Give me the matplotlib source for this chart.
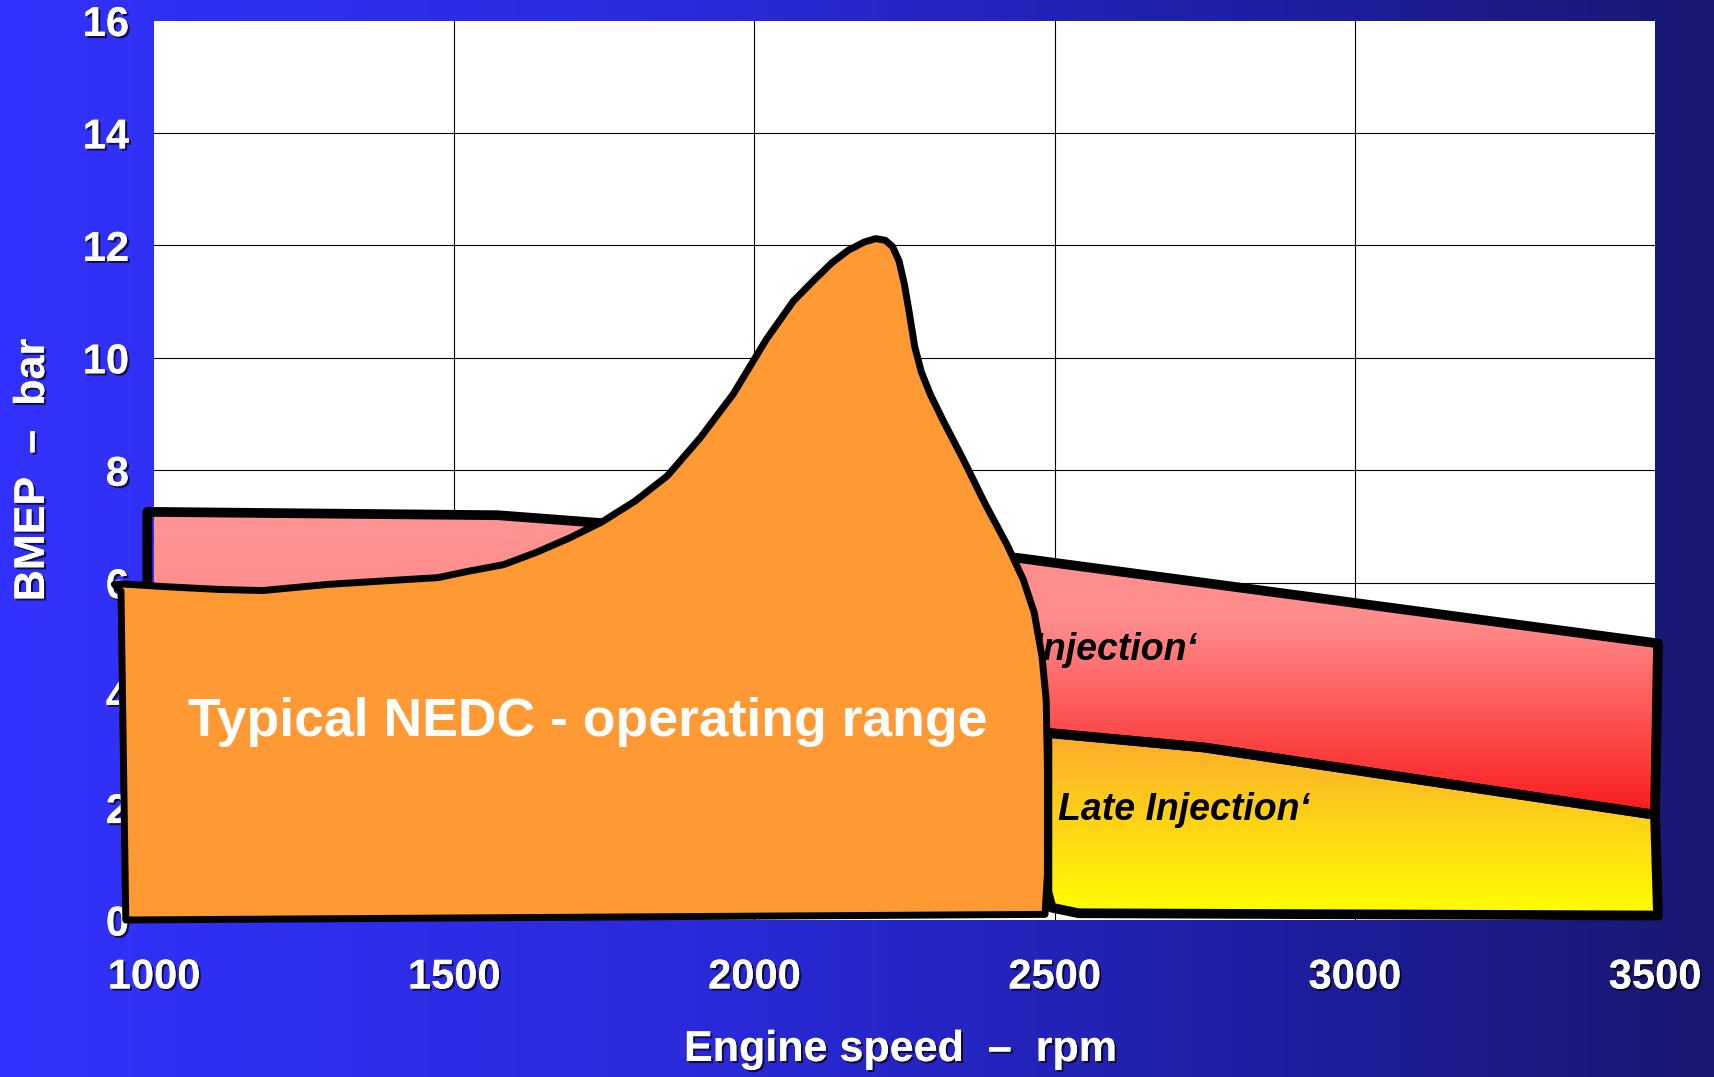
import numpy as np
import matplotlib.pyplot as plt
import matplotlib.patheffects as pe
from matplotlib.patches import Polygon
from matplotlib.colors import LinearSegmentedColormap

plt.rcParams['font.family'] = ['Liberation Sans', 'DejaVu Sans']

# outlines: engine speed (rpm) / BMEP (bar)
nedc_rpm = [944, 1017, 1108, 1181, 1290, 1411, 1473, 1522, 1582, 1637, 1691, 1746,
            1801, 1855, 1910, 1965, 2020, 2065, 2101, 2129, 2156, 2183, 2202, 2218,
            2230, 2241, 2250, 2258, 2267, 2278, 2293, 2315, 2348, 2384, 2421, 2448,
            2466, 2479, 2486, 2488, 2488, 2484, 953, 945, 934]
nedc_bmep = [5.98, 5.93, 5.88, 5.86, 5.97, 6.05, 6.09, 6.2, 6.32, 6.54, 6.79, 7.08,
             7.45, 7.9, 8.58, 9.36, 10.33, 11.01, 11.4, 11.69, 11.91, 12.06, 12.12, 12.09,
             11.98, 11.72, 11.3, 10.8, 10.2, 9.75, 9.35, 8.87, 8.19, 7.41, 6.67, 6.05,
             5.47, 4.69, 3.91, 2.74, 0.8, 0.1, 0.0, 5.85, 5.97]

early_rpm = [989, 1573, 1746, 2439, 3505, 3500, 2748, 2484, 989]
early_bmep = [7.26, 7.2, 7.06, 6.44, 4.92, 1.87, 3.07, 3.33, 3.3]

late_rpm = [2488, 2748, 3500, 3505, 2540, 2495, 2488]
late_bmep = [3.33, 3.07, 1.87, 0.08, 0.12, 0.22, 0.5]

x_ticks = [1000, 1500, 2000, 2500, 3000, 3500]
y_ticks = [0, 2, 4, 6, 8, 10, 12, 14, 16]

fig = plt.figure(figsize=(17.15, 10.77), dpi=100)

# background gradient
bg = fig.add_axes([0, 0, 1, 1], zorder=-5)
bg_cmap = LinearSegmentedColormap.from_list('bg', [
    (0.0, (50/255, 50/255, 252/255)),
    (0.4, (42/255, 42/255, 220/255)),
    (0.75, (30/255, 30/255, 160/255)),
    (1.0, (24/255, 24/255, 112/255))])
bg.imshow(np.linspace(0, 1, 512).reshape(1, -1), cmap=bg_cmap, aspect='auto',
          extent=[0, 1, 0, 1])
bg.axis('off')

ax = fig.add_axes([154/1715, 1 - 920/1077, 1501/1715, 899.5/1077])
ax.set_facecolor('white')
for s in ax.spines.values():
    s.set_visible(False)

for y in y_ticks[1:-1]:
    ax.axhline(y, color='black', lw=0.8, zorder=1)
for x in x_ticks[1:-1]:
    ax.axvline(x, color='black', lw=0.8, zorder=1)


def gradient_poly(xs, ys, colors, z):
    poly = Polygon(np.column_stack([xs, ys]), closed=True, facecolor='none',
                   edgecolor='black', lw=7, joinstyle='round', zorder=z + 0.1,
                   clip_on=False)
    cmap = LinearSegmentedColormap.from_list('g', colors)
    im = ax.imshow(np.linspace(0, 1, 256).reshape(-1, 1), cmap=cmap, origin='lower',
                   aspect='auto', extent=[min(xs), max(xs), min(ys), max(ys)],
                   zorder=z, interpolation='bicubic')
    ax.add_patch(poly)
    im.set_clip_path(poly)
    im.set_clip_box(None)


gradient_poly(early_rpm, early_bmep, [
    (0.0, (248/255, 28/255, 28/255)),
    (0.3, (253/255, 80/255, 80/255)),
    (0.64, (1, 140/255, 140/255)),
    (1.0, (1, 148/255, 148/255))], 3)
gradient_poly(late_rpm, late_bmep, [
    (0.0, (1, 1, 0)),
    (1.0, (252/255, 170/255, 45/255))], 3)

ax.text(2738, 4.8, '\u201aEarly Injection\u2018', ha='right', va='center', fontsize=27,
        fontweight='bold', fontstyle='italic', color='black', zorder=5)
ax.text(2506, 1.95, 'Late Injection\u2018', ha='left', va='center', fontsize=27,
        fontweight='bold', fontstyle='italic', color='black', zorder=5)

ax.add_patch(Polygon(np.column_stack([nedc_rpm, nedc_bmep]), closed=True,
                     facecolor='#FF9933', edgecolor='black', lw=5,
                     joinstyle='round', zorder=6, clip_on=False))
ax.text(1057, 3.52, 'Typical NEDC - operating range', ha='left', va='center',
        fontsize=38.5, fontweight='bold', color='white', zorder=8)

ax.set_xlim(1000, 3500)
ax.set_ylim(0, 16)
ax.set_xticks(x_ticks)
ax.set_yticks(y_ticks)
ax.tick_params(length=0, labelsize=30, labelcolor='white')
ax.tick_params(axis='x', pad=27)
ax.tick_params(axis='y', pad=18)

shadow = [pe.withSimplePatchShadow(offset=(1.5, -1.5), shadow_rgbFace='black', alpha=0.7),
          pe.Normal()]
for lbl in ax.get_xticklabels() + ax.get_yticklabels():
    lbl.set_fontweight('bold')
    lbl.set_path_effects(shadow)

ax.set_xlabel('Engine speed  \u2013  rpm', fontsize=31, fontweight='bold', color='white',
              va='center', path_effects=shadow)
ax.xaxis.set_label_coords(0.497, -0.1445)
ax.set_ylabel('BMEP  \u2013  bar', fontsize=31, fontweight='bold', color='white',
              va='center', path_effects=shadow)
ax.yaxis.set_label_coords(-0.0806, 0.5)

plt.savefig('out.png', dpi=100)
